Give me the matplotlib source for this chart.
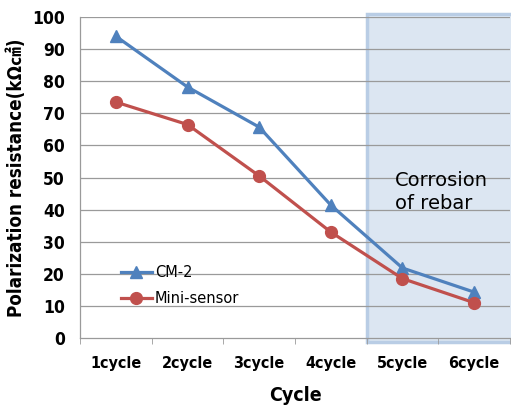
import matplotlib

matplotlib.use("Agg")
import matplotlib.pyplot as plt  # noqa: E402
from matplotlib.patches import Rectangle  # noqa: E402

# data
cycles = ["1cycle", "2cycle", "3cycle", "4cycle", "5cycle", "6cycle"]
cm2 = [94, 78.2, 65.7, 41.4, 21.8, 14.3]
mini_sensor = [73.5, 66.5, 50.5, 33, 18.5, 11]
y_ticks = list(range(0, 101, 10))

BLUE = "#4f81bd"
RED = "#c0504d"
SHADE = "#dce6f2"
SHADE_EDGE = "#b9cde5"
GRID = "#9a9a9a"

plt.rcParams["font.family"] = ["DejaVu Sans", "Noto Sans CJK KR"]
plt.rcParams["font.stretch"] = "condensed"

fig = plt.figure(figsize=(5.11, 4.12), dpi=100)
ax = fig.add_axes([0.1566, 0.1796, 0.8414, 0.7791])

x = list(range(len(cycles)))

# corrosion zone (last two cycles)
ax.add_patch(
    Rectangle((3.5, -1.2), 2.5, 102.0, facecolor=SHADE, edgecolor=SHADE_EDGE,
              linewidth=2.5, clip_on=False, zorder=0)
)

for yt in y_ticks[1:]:
    ax.axhline(yt, color=GRID, linewidth=0.9, zorder=1)

ax.plot(x, cm2, color=BLUE, linewidth=2.3, marker="^", markersize=8,
        label="CM-2", zorder=3)
ax.plot(x, mini_sensor, color=RED, linewidth=2.3, marker="o", markersize=8.5,
        label="Mini-sensor", zorder=3)

ax.set_xlim(-0.5, 5.5)
ax.set_ylim(0, 100)
ax.set_yticks(y_ticks)
ax.set_yticklabels([str(v) for v in y_ticks], fontsize=12.5, fontweight="bold")
ax.set_xticks(x)
ax.set_xticklabels(cycles, fontsize=11.5, fontweight="bold")
ax.set_xticks([i - 0.5 for i in range(len(cycles) + 1)], minor=True)
ax.tick_params(axis="x", which="major", length=0, pad=13)
ax.tick_params(axis="x", which="minor", length=4, color=GRID)
ax.tick_params(axis="y", length=0, pad=11)

for side in ("top", "right"):
    ax.spines[side].set_visible(False)
for side in ("left", "bottom"):
    ax.spines[side].set_color(GRID)
    ax.spines[side].set_linewidth(0.9)

ax.set_ylabel("Polarization resistance(kΩ㎠)", fontsize=13.5, fontweight="bold", labelpad=4)
ax.set_xlabel("Cycle", fontsize=14, fontweight="bold", labelpad=11)

ax.text(3.9, 45.5, "Corrosion\nof rebar", fontsize=14, fontstretch="normal",
        ha="left", va="center", linespacing=1.3, zorder=4)

ax.legend(loc="lower left", bbox_to_anchor=(0.065, 0.06), frameon=False,
          prop={"size": 10.5, "stretch": "normal"},
          handlelength=2.1, handletextpad=0.2, labelspacing=0.75)

fig.savefig("out.png", dpi=100)
